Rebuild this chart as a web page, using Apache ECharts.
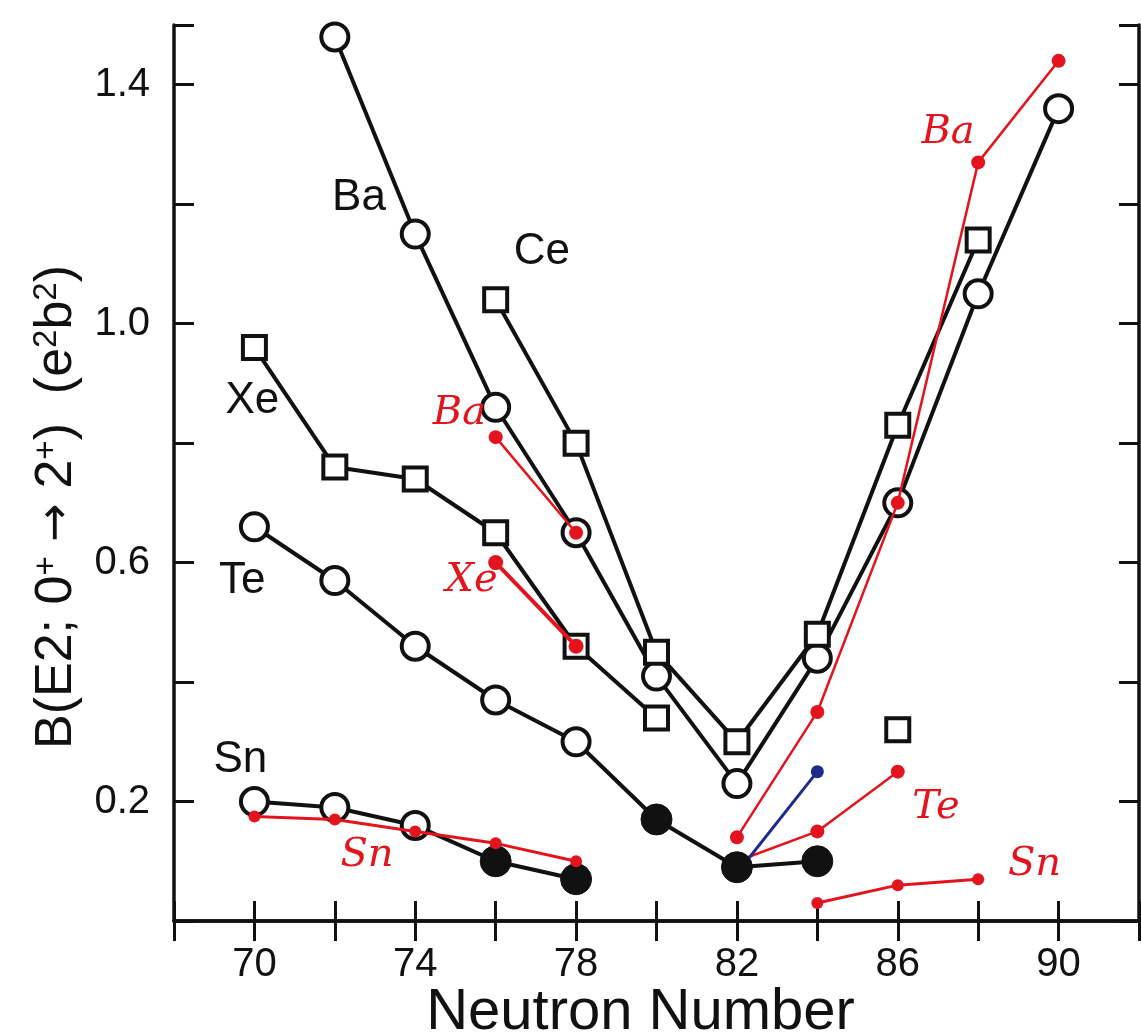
<!DOCTYPE html>
<html>
<head>
<meta charset="utf-8">
<script src="https://cdn.jsdelivr.net/npm/echarts@6/dist/echarts.min.js"></script>
<style>
  html, body { margin: 0; padding: 0; background: #fff; }
  #main { width: 1141px; height: 1032px; }
</style>
</head>
<body>
<div id="main"></div>
<script>
// B(E2; 0+ -> 2+) in e^2 b^2, by neutron number
const N_BA = [72, 74, 76, 78, 80, 82, 84, 86, 88, 90];
const B_BA = [1.48, 1.15, 0.86, 0.65, 0.41, 0.23, 0.44, 0.70, 1.05, 1.36];
const N_CE = [76, 78, 80, 82, 84, 86, 88];
const B_CE = [1.04, 0.80, 0.45, 0.30, 0.48, 0.83, 1.14];
const N_XE = [70, 72, 74, 76, 78, 80, 82, 84, 86];
const B_XE = [0.96, 0.76, 0.74, 0.65, 0.46, 0.34, null, null, 0.32];
const N_TE = [70, 72, 74, 76, 78, 80, 82, 84];
const B_TE = [0.66, 0.57, 0.46, 0.37, 0.30, 0.17, 0.09, 0.10];
const TE_FILLED = [80, 82, 84];
const N_SN = [70, 72, 74, 76, 78];
const B_SN = [0.20, 0.19, 0.16, 0.10, 0.07];
const SN_FILLED = [76, 78];

// hand-drawn additions (red / blue)
const N_BA_RED = [76, 78, 80, 82, 84, 86, 88, 90];
const B_BA_RED = [0.81, 0.65, null, 0.14, 0.35, 0.70, 1.27, 1.44];
const N_XE_RED = [76, 78];
const B_XE_RED = [0.60, 0.46];
const N_TE_RED = [82, 84, 86];
const B_TE_RED = [0.10, 0.15, 0.25];
const N_BLUE = [82, 84];
const B_BLUE = [0.08, 0.25];
const N_SN_RED = [70, 72, 74, 76, 78, 80, 82, 84, 86, 88];
const B_SN_RED = [0.175, 0.17, 0.15, 0.13, 0.10, null, null, 0.03, 0.06, 0.07];

// element labels (text, neutron number, B(E2))
const BLACK_LABELS = ['Ba', 'Ce', 'Xe', 'Te', 'Sn'];
const BLACK_LABEL_AT = [[72.6, 1.21], [77.15, 1.12], [69.95, 0.87], [69.7, 0.57], [69.65, 0.27]];
const RED_LABELS = ['Ba', 'Xe', 'Sn', 'Ba', 'Te', 'Sn'];
const RED_LABEL_AT = [[75.1, 0.85], [75.4, 0.57], [72.8, 0.11], [87.25, 1.32], [86.95, 0.19], [89.4, 0.095]];

const X_TICK_LABELS = [70, 74, 78, 82, 86, 90];
const Y_TICK_LABELS = ['0.2', '0.6', '1.0', '1.4'];

const FONT = 'Liberation Sans';
const INK = '#111';
const RED = '#e3141d';
const BLUE = '#1c2c8c';

const pts = (ns, bs) => ns.map((n, i) => [n, bs[i] == null ? '-' : bs[i]]);

function blackSeries(name, ns, bs, shape, filled, z) {
  return {
    type: 'line', name: name, z: z, clip: false, silent: true,
    lineStyle: { color: INK, width: 4 },
    data: pts(ns, bs).map(function (p) {
      const isFilled = filled.indexOf(p[0]) >= 0;
      return {
        value: p,
        symbol: shape,
        symbolSize: isFilled ? 31 : (shape === 'rect' ? 23 : 27),
        itemStyle: isFilled
          ? { color: INK, borderColor: INK, borderWidth: 1 }
          : { color: '#fff', borderColor: INK, borderWidth: 4 }
      };
    })
  };
}

function inkSeries(name, ns, bs, color, width, dot, z) {
  return {
    type: 'line', name: name, z: z, clip: false, silent: true,
    symbol: 'circle', symbolSize: dot,
    itemStyle: { color: color, borderWidth: 0 },
    lineStyle: { color: color, width: width },
    data: pts(ns, bs)
  };
}

function labelSeries(texts, at, style) {
  return {
    type: 'scatter', z: 6, silent: true, symbolSize: 1,
    itemStyle: { color: 'rgba(0,0,0,0)', opacity: 1 },
    label: Object.assign({ show: true, position: 'inside', formatter: '{b}', textBorderWidth: 0 }, style),
    data: texts.map((t, i) => ({ name: t, value: at[i] }))
  };
}

const chart = echarts.init(document.getElementById('main'));

const tickStyle = { inside: true, length: 20, lineStyle: { color: INK, width: 3 } };
const lineStyle = { lineStyle: { color: INK, width: 3.5 } };

chart.setOption({
  animation: false,
  backgroundColor: '#fff',
  grid: { left: 174, right: 2, top: 25, bottom: 111, outerBoundsMode: 'none', containLabel: false },
  xAxis: [{
    type: 'value', min: 68, max: 92, interval: 2,
    axisLine: lineStyle, axisTick: tickStyle, splitLine: { show: false },
    axisLabel: {
      margin: 24, color: INK, fontFamily: FONT, fontSize: 40,
      formatter: v => (X_TICK_LABELS.indexOf(v) >= 0 ? String(v) : '')
    },
    name: 'Neutron Number', nameLocation: 'middle', nameGap: 63, nameMoveOverlap: false,
    nameTextStyle: { color: INK, fontFamily: FONT, fontSize: 58, padding: [0, 32, 0, 0] }
  }, {
    type: 'value', position: 'top', min: 68, max: 92, interval: 2,
    axisLine: lineStyle, axisTick: tickStyle, splitLine: { show: false },
    axisLabel: { show: false }
  }],
  yAxis: [{
    type: 'value', min: 0, max: 1.5, interval: 0.2,
    axisLine: lineStyle, axisTick: tickStyle, splitLine: { show: false },
    axisLabel: {
      margin: 24, color: INK, fontFamily: FONT, fontSize: 40,
      formatter: v => (Y_TICK_LABELS.indexOf(v.toFixed(1)) >= 0 && v < 1.45 ? v.toFixed(1) : '')
    },
    name: '{a|B(E2; 0}{s|+}{r| → }{a|2}{s|+}{a|)  (e}{s|2}{a|b}{s|2}{a|)}',
    nameLocation: 'middle', nameGap: 90, nameMoveOverlap: false,
    nameTextStyle: {
      padding: [0, 68, 0, 0],
      rich: {
        a: { color: INK, fontFamily: FONT, fontSize: 52 },
        r: { color: INK, fontFamily: 'DejaVu Sans', fontSize: 46 },
        s: { color: INK, fontFamily: FONT, fontSize: 33, verticalAlign: 'top', padding: [0, 0, 21, 0] }
      }
    }
  }, {
    type: 'value', position: 'right', min: 0, max: 1.5, interval: 0.2,
    axisLine: lineStyle, axisTick: tickStyle, splitLine: { show: false },
    axisLabel: { show: false }
  }],
  series: [
    blackSeries('Ba', N_BA, B_BA, 'circle', [], 2),
    blackSeries('Ce', N_CE, B_CE, 'rect', [], 2),
    blackSeries('Xe', N_XE, B_XE, 'rect', [], 2),
    blackSeries('Sn', N_SN, B_SN, 'circle', SN_FILLED, 2),
    inkSeries('Ba (red)', N_BA_RED, B_BA_RED, RED, 2.5, 14, 3),
    inkSeries('Xe (red)', N_XE_RED, B_XE_RED, RED, 4, 15, 3),
    inkSeries('Sn (red)', N_SN_RED, B_SN_RED, RED, 3, 12, 3),
    inkSeries('Te (red)', N_TE_RED, B_TE_RED, RED, 2.5, 14, 3),
    inkSeries('blue', N_BLUE, B_BLUE, BLUE, 3, 13, 3),
    blackSeries('Te', N_TE, B_TE, 'circle', TE_FILLED, 4),
    labelSeries(BLACK_LABELS, BLACK_LABEL_AT, { color: INK, fontFamily: FONT, fontSize: 44 }),
    labelSeries(RED_LABELS, RED_LABEL_AT, {
      color: RED, fontFamily: 'DejaVu Serif', fontStyle: 'italic', fontSize: 40
    })
  ]
});
</script>
</body>
</html>
